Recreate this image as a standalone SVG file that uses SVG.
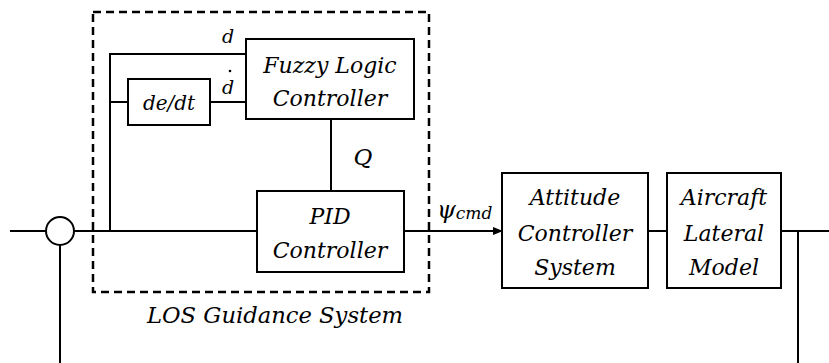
<svg xmlns="http://www.w3.org/2000/svg" width="829" height="363" viewBox="0 0 829 363">
<style>
.box{fill:#fff;stroke:#000;stroke-width:2}
.ln{fill:none;stroke:#000;stroke-width:2}
text{font-family:'DejaVu Serif',serif;font-style:italic;fill:#000}
.t{text-anchor:middle}
</style>
<defs>
<marker id="ah" markerWidth="10" markerHeight="8" refX="9" refY="4" orient="auto" markerUnits="userSpaceOnUse">
<path d="M0,0 L10,4 L0,8 z" fill="#000"/>
</marker>
</defs>
<rect width="829" height="363" fill="#fff"/>
<g id="guidance-boundary">
<rect x="93" y="12" width="336" height="280" fill="none" stroke="#000" stroke-width="2.5" stroke-dasharray="8,5"/>
<text class="t" x="275" y="323" font-size="22" textLength="256" lengthAdjust="spacingAndGlyphs">LOS Guidance System</text>
</g>
<g id="connectors">
<path class="ln" d="M10,231 H46"/>
<path class="ln" d="M74,231 H257"/>
<path class="ln" d="M110,231 V54 H246"/>
<path class="ln" d="M110,102 H128"/>
<path class="ln" d="M210,102 H246"/>
<path class="ln" d="M331,119 V191"/>
<path class="ln" d="M404,231 H502" marker-end="url(#ah)"/>
<path class="ln" d="M648,231 H667"/>
<path class="ln" d="M781,231 H829"/>
<path class="ln" d="M798,231 V363"/>
<path class="ln" d="M60,245 V363"/>
<text class="t" x="228" y="43" font-size="19">d</text>
<text class="t" x="228" y="94" font-size="19">d</text>
<circle cx="230" cy="71" r="1.3" fill="#000"/>
<text class="t" x="363" y="165" font-size="23">Q</text>
<text x="437" y="218" font-size="24">ψ<tspan font-size="17" dy="1">cmd</tspan></text>
</g>
<g id="sum">
<circle cx="60" cy="231" r="14" fill="#fff" stroke="#000" stroke-width="2"/>
</g>
<g id="fuzzy">
<rect class="box" x="246" y="39" width="168" height="80"/>
<text class="t" x="330" y="73" font-size="22">Fuzzy Logic</text>
<text class="t" x="330" y="106" font-size="22">Controller</text>
</g>
<g id="dedt">
<rect class="box" x="128" y="79" width="82" height="46"/>
<text class="t" x="169" y="110" font-size="20">de/dt</text>
</g>
<g id="pid">
<rect class="box" x="257" y="191" width="147" height="81"/>
<text class="t" x="330" y="224" font-size="22">PID</text>
<text class="t" x="330" y="258" font-size="22">Controller</text>
</g>
<g id="attitude">
<rect class="box" x="502" y="173" width="146" height="115"/>
<text class="t" x="575" y="205" font-size="22">Attitude</text>
<text class="t" x="575" y="241" font-size="22">Controller</text>
<text class="t" x="575" y="275" font-size="22">System</text>
</g>
<g id="aircraft">
<rect class="box" x="667" y="173" width="114" height="115"/>
<text class="t" x="724" y="205" font-size="22">Aircraft</text>
<text class="t" x="724" y="241" font-size="22">Lateral</text>
<text class="t" x="724" y="275" font-size="22">Model</text>
</g>
</svg>
